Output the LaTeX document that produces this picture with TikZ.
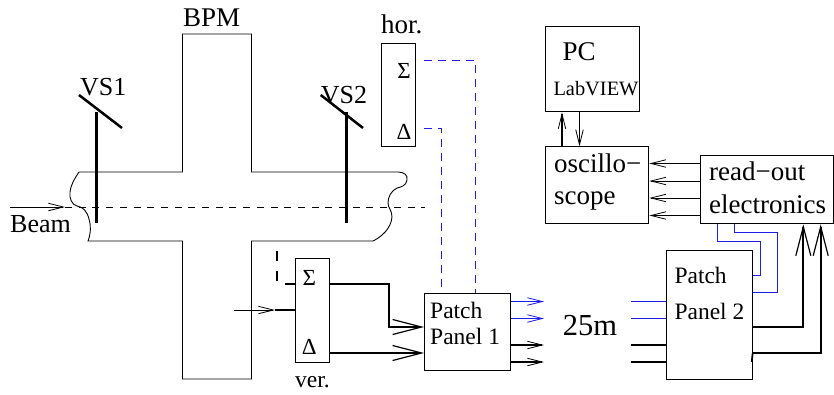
\documentclass[tikz,border=0pt]{standalone}
\usepackage{fontspec}
\setmainfont{Liberation Serif}
\usetikzlibrary{arrows.meta}
\definecolor{wireblue}{RGB}{30,30,235}
\tikzset{
  x=1pt,y=-1pt,
  line join=miter,
  lab/.style={anchor=base west,inner sep=0pt,font=\fontsize{#1}{#1}\selectfont},
  lab/.default=27,
  sym/.style={inner sep=0pt,font=\fontsize{23}{23}\selectfont},
  boxn/.style={draw,line width=1pt,inner sep=0pt,anchor=north west},
  wire/.style={line width=1pt},
  bwire/.style={line width=1.7pt},
  blue wire/.style={line width=1pt,wireblue},
  blue dash/.style={line width=1.2pt,wireblue,dash pattern=on 8pt off 6pt},
  smallhead/.style={-{Straight Barb[length=15pt,width=7.5pt,line width=0.8pt]}},
  bighead/.style={-{Straight Barb[length=29pt,width=15pt,line width=1.2pt]}},
  vac/.style={line width=0.9pt},
  rod/.style={line width=3pt},
  blade/.style={line width=2.5pt},
}
\begin{document}
\begin{tikzpicture}
\useasboundingbox (0,0) rectangle (834,394);
% vacuum chamber + BPM
\draw[vac] (79,172) -- (182.5,172) -- (182.5,34) -- (251.5,34) -- (251.5,172) -- (398,172)
  .. controls (404,172) and (408,175) .. (407,180)
  .. controls (406,186) and (401,187) .. (397,188)
  .. controls (391,191) and (388,197) .. (388,203)
  .. controls (388,208) and (392,210) .. (392,217)
  .. controls (391,229) and (381,237) .. (373,241)
  -- (251.5,241) -- (251.5,379) -- (182.5,379) -- (182.5,241) -- (88,241)
  .. controls (91,233) and (91,225) .. (89,219)
  .. controls (87,211) and (83,207) .. (77,206)
  .. controls (72,205) and (69,198) .. (70,192)
  .. controls (71,184) and (75,178) .. (79,172);
% beam
\coordinate (beamin) at (10,207);
\coordinate (beamtip) at (65,207);
\coordinate (beamend) at (425,207);
\draw[wire,smallhead] (beamin) -- (beamtip);
\draw[line width=1pt,dash pattern=on 7pt off 6.7pt] (beamtip) -- (beamend);
% screens
\coordinate (vsa) at (96,112); \coordinate (vsb) at (96,223);
\coordinate (vsc) at (79,95); \coordinate (vsd) at (122,128);
\coordinate (vse) at (346.3,112); \coordinate (vsf) at (346.3,223);
\coordinate (vsg) at (320.7,95); \coordinate (vsh) at (363,128);
\draw[rod] (vsa) -- (vsb);
\draw[blade] (vsc) -- (vsd);
\draw[rod] (vse) -- (vsf);
\draw[blade] (vsg) -- (vsh);
% labels
\node[lab] (tbpm) at (183,26) {BPM};
\node[lab=26] (tvsa) at (80,95) {VS1};
\node[lab=26] (tvsb) at (320.7,103) {VS2};
\node[lab] (thor) at (381,33.3) {hor.};
\node[lab=26] (tbeam) at (10,232.7) {Beam};
\node[lab=23.5] (tver) at (295,387) {ver.};
\node[lab=30.5] (t25) at (562.7,335) {25m};
% boxes
\node[boxn,minimum width=34.3pt,minimum height=103.3pt] (hor) at (381,42.7) {};
\node[boxn,minimum width=34.6pt,minimum height=103.4pt] (ver) at (294.7,258.3) {};
\node[boxn,minimum width=86.3pt,minimum height=77.6pt] (pp1) at (424,292.7) {};
\node[boxn,minimum width=86pt,minimum height=129pt] (pp2) at (665.7,250) {};
\node[boxn,minimum width=94.6pt,minimum height=85.6pt] (pc) at (544.7,25.7) {};
\node[boxn,minimum width=103.6pt,minimum height=77pt] (osc) at (544.7,146.3) {};
\node[boxn,minimum width=133pt,minimum height=68.3pt] (ro) at (700,155) {};
% box texts
\node[sym] (sa) at (404,70.7) {Σ};
\node[sym] (da) at (404,132) {Δ};
\node[sym] (sb) at (309.3,277.7) {Σ};
\node[sym] (db) at (309.3,346.7) {Δ};
\node[lab=23.5] (pa) at (430,318) {Patch};
\node[lab=23.5] (pb) at (430,344) {Panel 1};
\node[lab=23.5] (pc1) at (674.3,283) {Patch};
\node[lab=23.5] (pc2) at (674.3,319) {Panel 2};
\node[lab] (tpc) at (562.3,60) {PC};
\node[lab=20.4] (tlv) at (553.3,95) {LabVIEW};
\node[lab] (tos) at (554,172) {oscillo−};
\node[lab] (tsc) at (554,204) {scope};
\node[lab] (trd) at (709,180) {read−out};
\node[lab] (tel) at (709,213) {electronics};
% hor. signals
\coordinate (ha) at (424,60.5); \coordinate (hb) at (475.5,60.5);
\coordinate (hc) at (424,128.5); \coordinate (hd) at (441.5,128.5);
\draw[blue dash] (ha) -- (hb) -- (hb |- pp1.north);
\draw[blue dash] (hc) -- (hd) -- (hd |- pp1.north);
% ver. signals
\coordinate (va) at (294.7,284); \coordinate (vb) at (277.3,284); \coordinate (vc) at (277.3,250.5);
\draw[bwire,dash pattern=on 10pt off 10pt] (va) -- (vb) -- (vc);
\coordinate (vd) at (234,310); \coordinate (ve) at (275,310); \coordinate (vf) at (294.7,310);
\draw[wire,smallhead] (vd) -- (ve);
\draw[bwire] (ve) -- (vf);
\coordinate (vg) at (329.3,284); \coordinate (vh) at (389.3,284); \coordinate (vi) at (389.3,327);
\coordinate (vj) at (329.3,353);
\draw[bwire,bighead] (vg) -- (vh) -- (vi) -- (vi -| pp1.west);
\draw[bwire,bighead] (vj) -- (vj -| pp1.west);
% patch panel 1 outputs
\coordinate (oa) at (544,301.5); \coordinate (ob) at (544,318.5);
\coordinate (oc) at (544,345); \coordinate (od) at (544,362);
\draw[blue wire,smallhead] (oa -| pp1.east) -- (oa);
\draw[blue wire,smallhead] (ob -| pp1.east) -- (ob);
\draw[bwire,smallhead] (oc -| pp1.east) -- (oc);
\draw[bwire,smallhead] (od -| pp1.east) -- (od);
% patch panel 2 inputs
\coordinate (ia) at (631,301.5); \coordinate (ib) at (631,318.5);
\coordinate (ic) at (631,345); \coordinate (id) at (631,362);
\draw[blue wire] (ia) -- (ia -| pp2.west);
\draw[blue wire] (ib) -- (ib -| pp2.west);
\draw[bwire] (ic) -- (ic -| pp2.west);
\draw[bwire] (id) -- (id -| pp2.west);
% PC <-> scope
\coordinate (xa) at (562,146.3); \coordinate (xb) at (579.5,146.3);
\draw[bwire,smallhead] (xa) -- (xa |- pc.south);
\draw[wire,smallhead] (xb |- pc.south) -- (xb);
% read-out -> scope
\foreach \n/\yy in {a/163.5,b/181,c/198,d/215.5}{
  \coordinate (r\n) at (700,\yy);
  \draw[wire,smallhead] (r\n) -- (r\n -| osc.east);
}
% read-out <-> patch panel 2
\coordinate (ba) at (717.5,241.5); \coordinate (bb) at (760.5,241.5); \coordinate (bc) at (760.5,275.5);
\coordinate (bd) at (734.5,232.5); \coordinate (be) at (777.5,232.5); \coordinate (bf) at (777.5,292.5);
\draw[blue wire] (ba |- ro.south) -- (ba) -- (bb) -- (bc) -- (bc -| pp2.east);
\draw[blue wire] (bd |- ro.south) -- (bd) -- (be) -- (bf) -- (bf -| pp2.east);
\coordinate (ka) at (803.3,327); \coordinate (kb) at (820.7,353); \coordinate (kc) at (751.7,362);
\draw[bwire,bighead] (ka -| pp2.east) -- (ka) -- (ka |- ro.south);
\draw[bwire,bighead] (kb -| pp2.east) -- (kb) -- (kb |- ro.south);
\draw[bwire] (kb -| pp2.east) -- (kc);
\end{tikzpicture}
\end{document}
